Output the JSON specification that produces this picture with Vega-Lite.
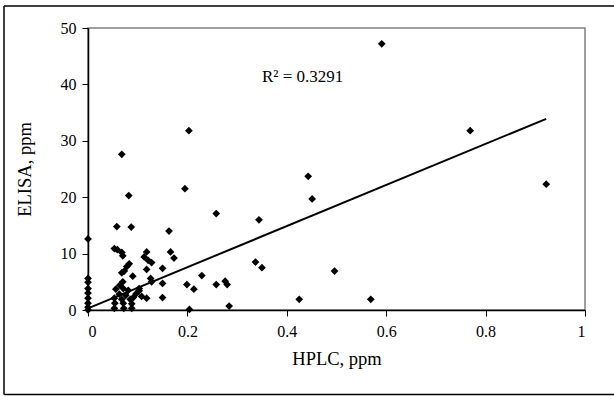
{
  "$schema": "https://vega.github.io/schema/vega-lite/v6.json",
  "width": 497,
  "height": 282,
  "autosize": {"type": "none"},
  "padding": {"left": 88, "top": 28, "right": 29, "bottom": 86},
  "background": "white",
  "config": {
    "view": {"stroke": "#808080", "strokeWidth": 1.5},
    "font": "Liberation Serif",
    "axis": {
      "grid": false,
      "domainColor": "#000000",
      "domainWidth": 1.5,
      "tickColor": "#000000",
      "tickSize": 6,
      "labelFont": "Liberation Serif",
      "labelFontSize": 16,
      "labelColor": "#000000",
      "titleFont": "Liberation Serif",
      "titleFontSize": 18.5,
      "titleFontWeight": "normal",
      "titleColor": "#000000"
    }
  },
  "datasets": {
    "points": [
      {"hplc": 0.591, "elisa": 47.2}, {"hplc": 0.769, "elisa": 31.8}, {"hplc": 0.922, "elisa": 22.3},
      {"hplc": 0.443, "elisa": 23.7}, {"hplc": 0.451, "elisa": 19.7}, {"hplc": 0.258, "elisa": 17.1},
      {"hplc": 0.344, "elisa": 16.0}, {"hplc": 0.337, "elisa": 8.5}, {"hplc": 0.350, "elisa": 7.5},
      {"hplc": 0.496, "elisa": 6.9}, {"hplc": 0.229, "elisa": 6.1}, {"hplc": 0.258, "elisa": 4.5},
      {"hplc": 0.276, "elisa": 5.1}, {"hplc": 0.280, "elisa": 4.5}, {"hplc": 0.284, "elisa": 0.7},
      {"hplc": 0.425, "elisa": 1.9}, {"hplc": 0.569, "elisa": 1.9}, {"hplc": 0.203, "elisa": 31.8},
      {"hplc": 0.068, "elisa": 27.6}, {"hplc": 0.082, "elisa": 20.3}, {"hplc": 0.195, "elisa": 21.5},
      {"hplc": 0.0, "elisa": 12.6}, {"hplc": 0.058, "elisa": 14.8}, {"hplc": 0.087, "elisa": 14.7},
      {"hplc": 0.163, "elisa": 14.0}, {"hplc": 0.053, "elisa": 10.9}, {"hplc": 0.059, "elisa": 10.7},
      {"hplc": 0.068, "elisa": 10.2}, {"hplc": 0.070, "elisa": 9.6}, {"hplc": 0.118, "elisa": 10.3},
      {"hplc": 0.113, "elisa": 9.4}, {"hplc": 0.121, "elisa": 8.8}, {"hplc": 0.128, "elisa": 8.4},
      {"hplc": 0.166, "elisa": 10.3}, {"hplc": 0.173, "elisa": 9.2}, {"hplc": 0.083, "elisa": 8.2},
      {"hplc": 0.078, "elisa": 7.7}, {"hplc": 0.073, "elisa": 6.9}, {"hplc": 0.068, "elisa": 6.6},
      {"hplc": 0.090, "elisa": 6.0}, {"hplc": 0.118, "elisa": 7.2}, {"hplc": 0.150, "elisa": 7.4},
      {"hplc": 0.126, "elisa": 5.6}, {"hplc": 0.128, "elisa": 5.0}, {"hplc": 0.070, "elisa": 5.0},
      {"hplc": 0.064, "elisa": 4.4}, {"hplc": 0.056, "elisa": 3.7}, {"hplc": 0.071, "elisa": 3.8},
      {"hplc": 0.081, "elisa": 3.5}, {"hplc": 0.103, "elisa": 3.8}, {"hplc": 0.150, "elisa": 4.7},
      {"hplc": 0.199, "elisa": 4.5}, {"hplc": 0.213, "elisa": 3.7}, {"hplc": 0.063, "elisa": 2.8},
      {"hplc": 0.076, "elisa": 2.6}, {"hplc": 0.097, "elisa": 2.9}, {"hplc": 0.103, "elisa": 3.4},
      {"hplc": 0.108, "elisa": 2.4}, {"hplc": 0.118, "elisa": 2.1}, {"hplc": 0.150, "elisa": 2.2},
      {"hplc": 0.053, "elisa": 2.1}, {"hplc": 0.068, "elisa": 1.9}, {"hplc": 0.085, "elisa": 1.9},
      {"hplc": 0.091, "elisa": 2.2}, {"hplc": 0.054, "elisa": 1.2}, {"hplc": 0.071, "elisa": 1.2},
      {"hplc": 0.088, "elisa": 1.1}, {"hplc": 0.053, "elisa": 0.3}, {"hplc": 0.072, "elisa": 0.3},
      {"hplc": 0.088, "elisa": 0.3}, {"hplc": 0.204, "elisa": 0.1}, {"hplc": 0.0, "elisa": 5.6},
      {"hplc": 0.0, "elisa": 4.9}, {"hplc": 0.0, "elisa": 3.8}, {"hplc": 0.0, "elisa": 3.0},
      {"hplc": 0.0, "elisa": 2.1}, {"hplc": 0.0, "elisa": 1.2}, {"hplc": 0.0, "elisa": 0.5},
      {"hplc": 0.0, "elisa": 0.0}
    ],
    "trend": [
      {"hplc": 0.0, "elisa": 0.3},
      {"hplc": 0.922, "elisa": 33.9}
    ],
    "label": [
      {"hplc": 0.35, "elisa": 40.5, "text": "R² = 0.3291"}
    ]
  },
  "layer": [
    {
      "data": {"name": "points"},
      "mark": {"type": "point", "shape": "diamond", "filled": true, "color": "#000000", "size": 60, "opacity": 1, "clip": false},
      "encoding": {
        "x": {"field": "hplc", "type": "quantitative", "scale": {"domain": [0, 1], "nice": false, "zero": false},
          "axis": {"values": [0, 0.2, 0.4, 0.6, 0.8, 1], "format": "~g", "title": "HPLC, ppm", "labelPadding": 7, "titlePadding": 10}},
        "y": {"field": "elisa", "type": "quantitative", "scale": {"domain": [0, 50], "nice": false, "zero": false},
          "axis": {"values": [0, 10, 20, 30, 40, 50], "title": "ELISA, ppm", "labelPadding": 6, "titlePadding": 26}}
      }
    },
    {
      "data": {"name": "trend"},
      "mark": {"type": "line", "color": "#000000", "strokeWidth": 2},
      "encoding": {
        "x": {"field": "hplc", "type": "quantitative"},
        "y": {"field": "elisa", "type": "quantitative"}
      }
    },
    {
      "data": {"name": "label"},
      "mark": {"type": "text", "font": "Liberation Serif", "fontSize": 17, "color": "#000000", "align": "left", "baseline": "alphabetic"},
      "encoding": {
        "x": {"field": "hplc", "type": "quantitative"},
        "y": {"field": "elisa", "type": "quantitative"},
        "text": {"field": "text"}
      }
    },
    {
      "data": {"values": [{}]},
      "mark": {"type": "rule", "stroke": "#000000", "strokeWidth": 1.5, "clip": false},
      "encoding": {
        "x": {"datum": -0.169, "type": "quantitative"},
        "y": {"datum": 53.9, "type": "quantitative"},
        "y2": {"datum": -15.0}
      }
    },
    {
      "data": {"values": [{}]},
      "mark": {"type": "rule", "stroke": "#000000", "strokeWidth": 1.5, "clip": false},
      "encoding": {
        "x": {"datum": -0.169, "type": "quantitative"},
        "x2": {"datum": 1.07},
        "y": {"datum": 53.9, "type": "quantitative"}
      }
    },
    {
      "data": {"values": [{}]},
      "mark": {"type": "rule", "stroke": "#000000", "strokeWidth": 1.5, "clip": false},
      "encoding": {
        "x": {"datum": -0.169, "type": "quantitative"},
        "x2": {"datum": 1.07},
        "y": {"datum": -15.0, "type": "quantitative"}
      }
    }
  ]
}
